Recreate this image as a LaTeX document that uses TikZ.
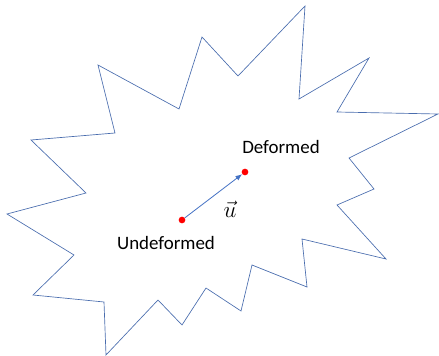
\documentclass[tikz,border=0pt]{standalone}
\usepackage{fontspec}
\setmainfont{Carlito}
\usetikzlibrary{arrows.meta}
\definecolor{outline}{HTML}{4A6DAE}
\definecolor{vec}{HTML}{4472C4}
\begin{document}
\begin{tikzpicture}[x=0.75pt,y=-0.75pt,
  shapeline/.style={draw=outline,line width=0.5pt,line join=miter},
  pt/.style={circle,fill=red,inner sep=0pt,minimum size=5pt},
  lbl/.style={font=\fontsize{14.2}{16}\selectfont,inner sep=0pt}]
\useasboundingbox (0,0) rectangle (439,356);
\draw[shapeline] (31,140) -- (115,133) -- (98,65) -- (179,109) -- (202,37) -- (238,76) -- (305,6) -- (299,99) -- (369,58) -- (337,112) -- (438,114) -- (349,158) -- (374,189) -- (337,205) -- (386,259) -- (302,239) -- (307,287) -- (252,265) -- (241,311) -- (206,288) -- (182,325) -- (158,300) -- (106,355) -- (104,302) -- (33,295) -- (74,255) -- (7,214) -- (86,193) -- cycle;
\node[pt] (u) at (182,220) {};
\node[pt] (d) at (245,172) {};
\draw[draw=vec,line width=0.6pt,-{Latex[length=5pt,width=4pt]}] (u) -- (d);
\node[lbl] (dl) at (281,147) {Deformed};
\node[lbl] (ul) at (166,243) {Undeformed};
\node[inner sep=0pt,font=\fontsize{16}{18}\selectfont] (vl) at (230,209) {$\vec{u}$};
\end{tikzpicture}
\end{document}
